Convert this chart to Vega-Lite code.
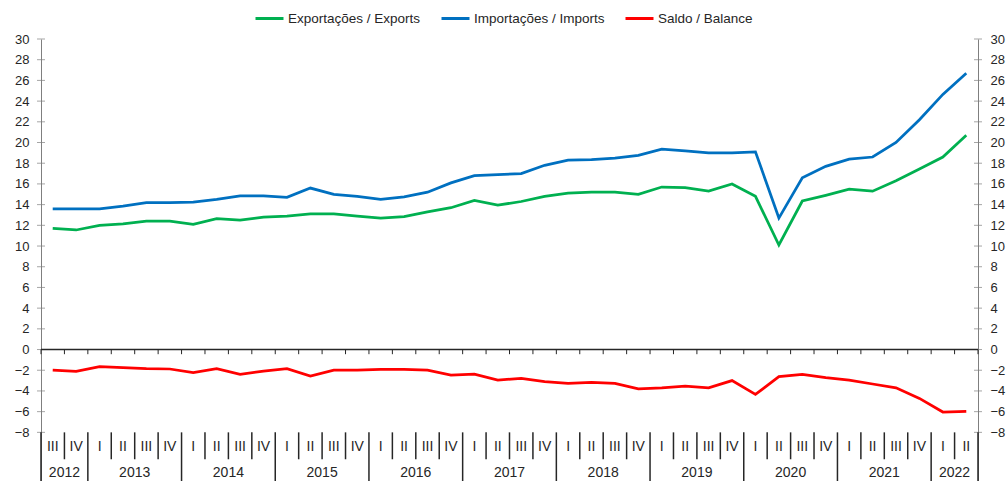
{
  "$schema": "https://vega.github.io/schema/vega-lite/v6.json",
  "width": 937,
  "height": 442,
  "autosize": {"type": "none"},
  "padding": {"left": 41, "top": 39, "right": 28, "bottom": 0},
  "background": "white",
  "config": {
    "view": {"stroke": null},
    "font": "Liberation Sans",
    "text": {"font": "Liberation Sans"},
    "axis": {"labelFont": "Liberation Sans"}
  },
  "datasets": {
    "q": [
      {"i": 0, "q": "III", "Exportações / Exports": 11.7, "Importações / Imports": 13.6, "Saldo / Balance": -2.0},
      {"i": 1, "q": "IV", "Exportações / Exports": 11.55, "Importações / Imports": 13.6, "Saldo / Balance": -2.1},
      {"i": 2, "q": "I", "Exportações / Exports": 12.0, "Importações / Imports": 13.6, "Saldo / Balance": -1.66},
      {"i": 3, "q": "II", "Exportações / Exports": 12.15, "Importações / Imports": 13.85, "Saldo / Balance": -1.75},
      {"i": 4, "q": "III", "Exportações / Exports": 12.4, "Importações / Imports": 14.2, "Saldo / Balance": -1.85},
      {"i": 5, "q": "IV", "Exportações / Exports": 12.4, "Importações / Imports": 14.2, "Saldo / Balance": -1.88},
      {"i": 6, "q": "I", "Exportações / Exports": 12.1, "Importações / Imports": 14.25, "Saldo / Balance": -2.24},
      {"i": 7, "q": "II", "Exportações / Exports": 12.65, "Importações / Imports": 14.5, "Saldo / Balance": -1.85},
      {"i": 8, "q": "III", "Exportações / Exports": 12.5, "Importações / Imports": 14.85, "Saldo / Balance": -2.4},
      {"i": 9, "q": "IV", "Exportações / Exports": 12.8, "Importações / Imports": 14.85, "Saldo / Balance": -2.08},
      {"i": 10, "q": "I", "Exportações / Exports": 12.9, "Importações / Imports": 14.7, "Saldo / Balance": -1.85},
      {"i": 11, "q": "II", "Exportações / Exports": 13.1, "Importações / Imports": 15.6, "Saldo / Balance": -2.56},
      {"i": 12, "q": "III", "Exportações / Exports": 13.1, "Importações / Imports": 15.0, "Saldo / Balance": -2.0},
      {"i": 13, "q": "IV", "Exportações / Exports": 12.9, "Importações / Imports": 14.8, "Saldo / Balance": -2.0},
      {"i": 14, "q": "I", "Exportações / Exports": 12.7, "Importações / Imports": 14.5, "Saldo / Balance": -1.92},
      {"i": 15, "q": "II", "Exportações / Exports": 12.85, "Importações / Imports": 14.75, "Saldo / Balance": -1.92},
      {"i": 16, "q": "III", "Exportações / Exports": 13.3, "Importações / Imports": 15.2, "Saldo / Balance": -2.0},
      {"i": 17, "q": "IV", "Exportações / Exports": 13.7, "Importações / Imports": 16.1, "Saldo / Balance": -2.46},
      {"i": 18, "q": "I", "Exportações / Exports": 14.4, "Importações / Imports": 16.8, "Saldo / Balance": -2.37},
      {"i": 19, "q": "II", "Exportações / Exports": 13.95, "Importações / Imports": 16.9, "Saldo / Balance": -2.95},
      {"i": 20, "q": "III", "Exportações / Exports": 14.3, "Importações / Imports": 17.0, "Saldo / Balance": -2.78},
      {"i": 21, "q": "IV", "Exportações / Exports": 14.8, "Importações / Imports": 17.8, "Saldo / Balance": -3.1},
      {"i": 22, "q": "I", "Exportações / Exports": 15.1, "Importações / Imports": 18.3, "Saldo / Balance": -3.27},
      {"i": 23, "q": "II", "Exportações / Exports": 15.2, "Importações / Imports": 18.35, "Saldo / Balance": -3.17},
      {"i": 24, "q": "III", "Exportações / Exports": 15.2, "Importações / Imports": 18.5, "Saldo / Balance": -3.27},
      {"i": 25, "q": "IV", "Exportações / Exports": 15.0, "Importações / Imports": 18.75, "Saldo / Balance": -3.8},
      {"i": 26, "q": "I", "Exportações / Exports": 15.7, "Importações / Imports": 19.35, "Saldo / Balance": -3.7},
      {"i": 27, "q": "II", "Exportações / Exports": 15.65, "Importações / Imports": 19.2, "Saldo / Balance": -3.53},
      {"i": 28, "q": "III", "Exportações / Exports": 15.3, "Importações / Imports": 19.0, "Saldo / Balance": -3.7},
      {"i": 29, "q": "IV", "Exportações / Exports": 16.0, "Importações / Imports": 19.0, "Saldo / Balance": -3.0},
      {"i": 30, "q": "I", "Exportações / Exports": 14.8, "Importações / Imports": 19.1, "Saldo / Balance": -4.33},
      {"i": 31, "q": "II", "Exportações / Exports": 10.1, "Importações / Imports": 12.7, "Saldo / Balance": -2.62},
      {"i": 32, "q": "III", "Exportações / Exports": 14.35, "Importações / Imports": 16.6, "Saldo / Balance": -2.4},
      {"i": 33, "q": "IV", "Exportações / Exports": 14.9, "Importações / Imports": 17.7, "Saldo / Balance": -2.72},
      {"i": 34, "q": "I", "Exportações / Exports": 15.5, "Importações / Imports": 18.4, "Saldo / Balance": -2.95},
      {"i": 35, "q": "II", "Exportações / Exports": 15.3, "Importações / Imports": 18.6, "Saldo / Balance": -3.33},
      {"i": 36, "q": "III", "Exportações / Exports": 16.3, "Importações / Imports": 20.0, "Saldo / Balance": -3.7},
      {"i": 37, "q": "IV", "Exportações / Exports": 17.45, "Importações / Imports": 22.2, "Saldo / Balance": -4.72},
      {"i": 38, "q": "I", "Exportações / Exports": 18.6, "Importações / Imports": 24.65, "Saldo / Balance": -6.04},
      {"i": 39, "q": "II", "Exportações / Exports": 20.7, "Importações / Imports": 26.7, "Saldo / Balance": -5.97}
    ],
    "years": [
      {"year": "2012", "c": 0.5}, {"year": "2013", "c": 3.5}, {"year": "2014", "c": 7.5},
      {"year": "2015", "c": 11.5}, {"year": "2016", "c": 15.5}, {"year": "2017", "c": 19.5},
      {"year": "2018", "c": 23.5}, {"year": "2019", "c": 27.5}, {"year": "2020", "c": 31.5},
      {"year": "2021", "c": 35.5}, {"year": "2022", "c": 38.5}
    ],
    "bounds": [
      {"b": -0.5, "k": "y"}, {"b": 0.5, "k": "q"}, {"b": 1.5, "k": "y"}, {"b": 2.5, "k": "q"},
      {"b": 3.5, "k": "q"}, {"b": 4.5, "k": "q"}, {"b": 5.5, "k": "y"}, {"b": 6.5, "k": "q"},
      {"b": 7.5, "k": "q"}, {"b": 8.5, "k": "q"}, {"b": 9.5, "k": "y"}, {"b": 10.5, "k": "q"},
      {"b": 11.5, "k": "q"}, {"b": 12.5, "k": "q"}, {"b": 13.5, "k": "y"}, {"b": 14.5, "k": "q"},
      {"b": 15.5, "k": "q"}, {"b": 16.5, "k": "q"}, {"b": 17.5, "k": "y"}, {"b": 18.5, "k": "q"},
      {"b": 19.5, "k": "q"}, {"b": 20.5, "k": "q"}, {"b": 21.5, "k": "y"}, {"b": 22.5, "k": "q"},
      {"b": 23.5, "k": "q"}, {"b": 24.5, "k": "q"}, {"b": 25.5, "k": "y"}, {"b": 26.5, "k": "q"},
      {"b": 27.5, "k": "q"}, {"b": 28.5, "k": "q"}, {"b": 29.5, "k": "y"}, {"b": 30.5, "k": "q"},
      {"b": 31.5, "k": "q"}, {"b": 32.5, "k": "q"}, {"b": 33.5, "k": "y"}, {"b": 34.5, "k": "q"},
      {"b": 35.5, "k": "q"}, {"b": 36.5, "k": "q"}, {"b": 37.5, "k": "y"}, {"b": 38.5, "k": "q"},
      {"b": 39.5, "k": "y"}
    ],
    "yt": [
      {"v": -8}, {"v": -6}, {"v": -4}, {"v": -2}, {"v": 0}, {"v": 2}, {"v": 4}, {"v": 6},
      {"v": 8}, {"v": 10}, {"v": 12}, {"v": 14}, {"v": 16}, {"v": 18}, {"v": 20}, {"v": 22},
      {"v": 24}, {"v": 26}, {"v": 28}, {"v": 30}
    ]
  },
  "resolve": {"axis": {"y": "independent"}, "scale": {"y": "shared"}},
  "layer": [
    {
      "data": {"name": "yt"},
      "mark": {"type": "tick", "orient": "horizontal", "size": 8, "thickness": 1, "color": "#7f7f7f"},
      "encoding": {
        "x": {"datum": -0.5, "type": "quantitative", "scale": {"domain": [-0.5, 39.5], "nice": false, "zero": false}, "axis": null},
        "y": {"field": "v", "type": "quantitative", "scale": {"domain": [-12.7, 30], "nice": false, "zero": false},
          "axis": {"orient": "left", "values": [-8, -6, -4, -2, 0, 2, 4, 6, 8, 10, 12, 14, 16, 18, 20, 22, 24, 26, 28, 30],
            "tickSize": 0, "labelPadding": 12, "grid": false, "title": null, "domain": true, "domainColor": "#7f7f7f", "domainWidth": 1,
            "labelFontSize": 13, "labelColor": "#262626", "labelFont": "Liberation Sans"}}
      }
    },
    {
      "data": {"name": "yt"},
      "mark": {"type": "tick", "orient": "horizontal", "size": 8, "thickness": 1, "color": "#7f7f7f"},
      "encoding": {
        "x": {"datum": 39.5, "type": "quantitative", "scale": {"domain": [-0.5, 39.5], "nice": false, "zero": false}, "axis": null},
        "y": {"field": "v", "type": "quantitative", "scale": {"domain": [-12.7, 30], "nice": false, "zero": false},
          "axis": {"orient": "right", "values": [-8, -6, -4, -2, 0, 2, 4, 6, 8, 10, 12, 14, 16, 18, 20, 22, 24, 26, 28, 30],
            "tickSize": 0, "labelPadding": 12, "grid": false, "title": null, "domain": true, "domainColor": "#7f7f7f", "domainWidth": 1,
            "labelFontSize": 13, "labelColor": "#262626", "labelFont": "Liberation Sans"}}
      }
    },
    {
      "data": {"values": [{}]},
      "mark": {"type": "rule", "color": "#262626", "strokeWidth": 1.5},
      "encoding": {
        "y": {"datum": 0, "type": "quantitative", "scale": {"domain": [-12.7, 30], "nice": false, "zero": false}, "axis": null}
      }
    },
    {
      "data": {"name": "bounds"},
      "mark": {"type": "rule", "color": "#262626", "strokeWidth": 1},
      "encoding": {
        "x": {"field": "b", "type": "quantitative", "scale": {"domain": [-0.5, 39.5], "nice": false, "zero": false}, "axis": null},
        "y": {"datum": 0, "type": "quantitative", "scale": {"domain": [-12.7, 30], "nice": false, "zero": false}, "axis": null},
        "y2": {"datum": -0.45}
      }
    },
    {
      "data": {"name": "bounds"},
      "transform": [{"filter": "datum.k == 'q'"}],
      "mark": {"type": "rule", "color": "#262626", "strokeWidth": 1.5},
      "encoding": {
        "x": {"field": "b", "type": "quantitative", "scale": {"domain": [-0.5, 39.5], "nice": false, "zero": false}, "axis": null},
        "y": {"datum": -8, "type": "quantitative", "scale": {"domain": [-12.7, 30], "nice": false, "zero": false}, "axis": null},
        "y2": {"datum": -10.6}
      }
    },
    {
      "data": {"name": "bounds"},
      "transform": [{"filter": "datum.k == 'y'"}],
      "mark": {"type": "rule", "color": "#262626", "strokeWidth": 1.5},
      "encoding": {
        "x": {"field": "b", "type": "quantitative", "scale": {"domain": [-0.5, 39.5], "nice": false, "zero": false}, "axis": null},
        "y": {"datum": -8, "type": "quantitative", "scale": {"domain": [-12.7, 30], "nice": false, "zero": false}, "axis": null},
        "y2": {"datum": -12.7}
      }
    },
    {
      "data": {"name": "q"},
      "mark": {"type": "text", "fontSize": 14, "color": "#262626", "baseline": "middle", "align": "center", "font": "Liberation Sans"},
      "encoding": {
        "x": {"field": "i", "type": "quantitative", "scale": {"domain": [-0.5, 39.5], "nice": false, "zero": false}, "axis": null},
        "y": {"datum": -9.45, "type": "quantitative", "scale": {"domain": [-12.7, 30], "nice": false, "zero": false}, "axis": null},
        "text": {"field": "q"}
      }
    },
    {
      "data": {"name": "years"},
      "mark": {"type": "text", "fontSize": 14, "color": "#262626", "baseline": "middle", "align": "center", "font": "Liberation Sans"},
      "encoding": {
        "x": {"field": "c", "type": "quantitative", "scale": {"domain": [-0.5, 39.5], "nice": false, "zero": false}, "axis": null},
        "y": {"datum": -11.9, "type": "quantitative", "scale": {"domain": [-12.7, 30], "nice": false, "zero": false}, "axis": null},
        "text": {"field": "year"}
      }
    },
    {
      "data": {"name": "q"},
      "transform": [{"fold": ["Exportações / Exports", "Importações / Imports", "Saldo / Balance"], "as": ["series", "value"]}],
      "mark": {"type": "line", "strokeWidth": 2.75},
      "encoding": {
        "x": {"field": "i", "type": "quantitative", "scale": {"domain": [-0.5, 39.5], "nice": false, "zero": false}, "axis": null},
        "y": {"field": "value", "type": "quantitative", "scale": {"domain": [-12.7, 30], "nice": false, "zero": false}, "axis": null},
        "color": {"field": "series", "type": "nominal",
          "scale": {"domain": ["Exportações / Exports", "Importações / Imports", "Saldo / Balance"], "range": ["#00B050", "#0070C0", "#FF0000"]},
          "legend": {"orient": "none", "legendX": 213, "legendY": -36, "direction": "horizontal", "title": null,
            "symbolType": "stroke", "symbolSize": 784, "symbolStrokeWidth": 3, "labelFontSize": 13.5, "labelOffset": 3,
            "columnPadding": 14, "labelColor": "#262626", "labelFont": "Liberation Sans", "labelLimit": 300}}
      }
    }
  ]
}
